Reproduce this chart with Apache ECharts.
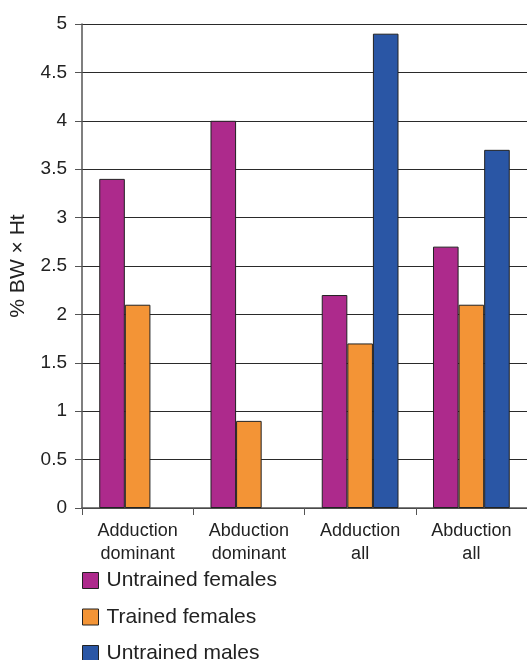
<!DOCTYPE html>
<html>
<head>
<meta charset="utf-8">
<script src="https://cdn.jsdelivr.net/npm/echarts@6/dist/echarts.min.js"></script>
<style>
  html, body { margin: 0; padding: 0; background: #fff; }
  #chart { width: 527px; height: 660px; }
</style>
</head>
<body>
<div id="chart"></div>
<script>
// Categories and series values
var categories = ['Adduction\ndominant', 'Abduction\ndominant', 'Adduction\nall', 'Abduction\nall'];
var untrainedFemales = [3.4, 4.0, 2.2, 2.7];
var trainedFemales = [2.1, 0.9, 1.7, 2.1];
var untrainedMales = [null, null, 4.9, 3.7];
var seriesNames = ['Untrained females', 'Trained females', 'Untrained males'];
var yTicks = { min: 0, max: 5, interval: 0.5 };

var colors = ['#AD2A8C', '#F39436', '#2A56A5'];
var fontFamily = 'Liberation Sans, Arial, sans-serif';

function barSeries(name, data, color) {
  return {
    name: name,
    type: 'bar',
    data: data,
    barGap: '0%',
    barCategoryGap: '31%',
    itemStyle: { color: color, borderColor: '#222', borderWidth: 1 }
  };
}

var chart = echarts.init(document.getElementById('chart'));
chart.setOption({
  animation: false,
  textStyle: { fontFamily: fontFamily },
  grid: { left: 82, right: -2, top: 24, bottom: 152, containLabel: false },
  legend: {
    orient: 'vertical',
    left: 82,
    top: 570,
    height: 110,
    padding: 0,
    itemWidth: 16,
    itemHeight: 16,
    itemGap: 15.5,
    icon: 'rect',
    textStyle: { fontSize: 21, lineHeight: 20, color: '#222', fontFamily: fontFamily, padding: [0, 0, 0, 3] },
    data: seriesNames.map(function (n, i) {
      return { name: n, itemStyle: { color: colors[i], borderColor: '#222', borderWidth: 1 } };
    })
  },
  xAxis: {
    type: 'category',
    data: categories,
    axisLine: { lineStyle: { color: '#555', width: 1.5 } },
    axisTick: { show: true, length: 7, lineStyle: { color: '#555' } },
    axisLabel: { color: '#222', fontSize: 18, lineHeight: 23, margin: 12, fontFamily: fontFamily }
  },
  yAxis: {
    type: 'value',
    min: yTicks.min,
    max: yTicks.max,
    interval: yTicks.interval,
    name: '% BW \u00d7 Ht',
    nameLocation: 'middle',
    nameGap: 53,
    nameTextStyle: { fontSize: 21, color: '#222', fontFamily: fontFamily },
    axisLine: { show: true, lineStyle: { color: '#555', width: 1.5 } },
    axisTick: { show: true, length: 7, lineStyle: { color: '#555' } },
    axisLabel: { color: '#222', fontSize: 19, margin: 15, fontFamily: fontFamily },
    splitLine: { show: true, lineStyle: { color: '#2a2a2a', width: 1.2 } }
  },
  series: [
    barSeries(seriesNames[0], untrainedFemales, colors[0]),
    barSeries(seriesNames[1], trainedFemales, colors[1]),
    barSeries(seriesNames[2], untrainedMales, colors[2])
  ]
});
</script>
</body>
</html>
